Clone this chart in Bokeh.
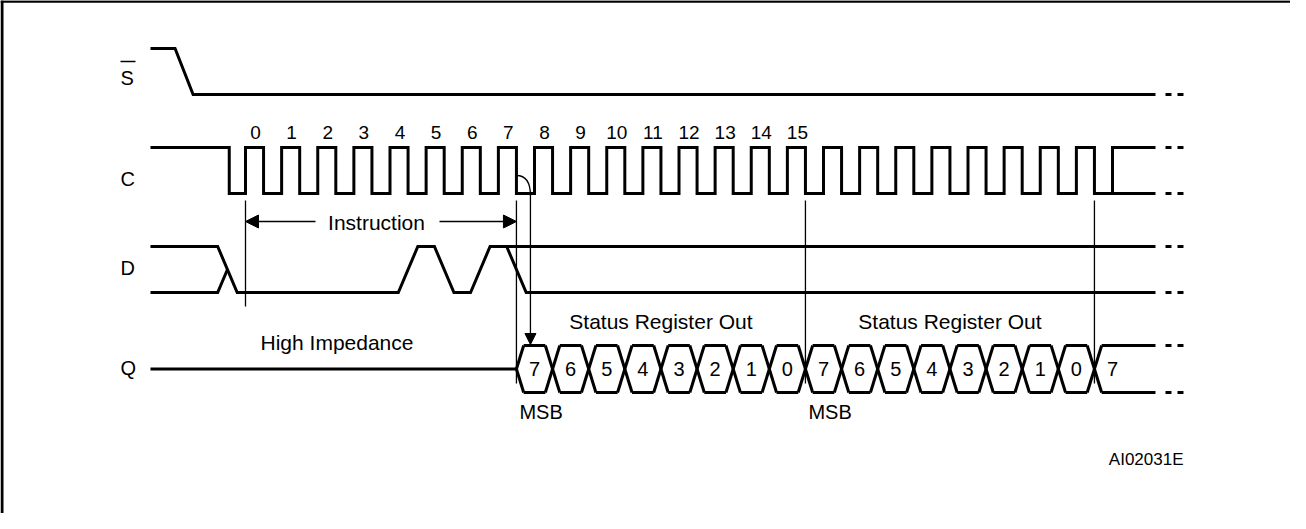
from bokeh.plotting import figure
from bokeh.models import Range1d, Arrow, NormalHead, ColumnDataSource
from bokeh.core.properties import value
from bokeh.embed import file_html
from bokeh.resources import INLINE

# ---------------- data (time unit = one clock period, 0 = rising edge of pulse 0) ----------------
SIGNAL_NAMES = ["S", "C", "D", "Q"]
CLOCK_LABELS = ["0", "1", "2", "3", "4", "5", "6", "7",
                "8", "9", "10", "11", "12", "13", "14", "15"]
N_CLOCK_PULSES = 24            # full pulses 0..23, then one more rising edge
CLOCK_DUTY = 0.5
CLOCK_IDLE_FALL = -0.45
S_FALL = -1.7
INSTRUCTION_BITS = [0, 0, 0, 0, 0, 1, 0, 1]   # RDSR instruction, MSB first
D_FIRST_EDGE = -0.5
STATUS_BITS = ["7", "6", "5", "4", "3", "2", "1", "0"]
STATUS_BYTES_SHOWN = 2
Q_START = 7.5
MARKERS = [0.0, 7.5, 15.5, 23.5]
T_START = -2.63
T_END = 25.19
INSTRUCTION_SPAN = [0.0, 7.5]
DIAGRAM_ID = "AI02031E"

# ---------------- layout (page pixels) ----------------
W, H = 1290, 513
MARGIN = 8
T0_PX = 253.0
PX_PER_T = 36.125
FONT = value("Liberation Sans")
LW = 3
THIN = 1.3
# (high, low) y for each row
LEVELS = {"S": (56, 102), "C": (155, 201), "D": (254, 300), "Q": (353, 400)}
LABEL_BASE = {"S": 93, "C": 194, "D": 283, "Q": 383}
TEXT_SHIFT = 0.36   # baseline -> drawn y correction (fraction of font size)


def t_of(px):
    return (px - T0_PX) / PX_PER_T


def dt(px):
    return px / PX_PER_T


p = figure(width=W, height=H, output_backend="svg", toolbar_location=None,
           x_range=Range1d(t_of(MARGIN), t_of(MARGIN + W)),
           y_range=Range1d(MARGIN + H, MARGIN),
           x_axis_location=None, y_axis_location=None, min_border=0,
           outline_line_color=None, background_fill_color="white",
           border_fill_color="white")
p.xgrid.visible = False
p.ygrid.visible = False

line_kw = dict(line_color="black", line_width=LW, line_join="miter", line_cap="butt")

# ---------- frame ----------
p.segment(x0=[t_of(9.5)], y0=[MARGIN], x1=[t_of(9.5)], y1=[MARGIN + H],
          line_color="black", line_width=3)
p.segment(x0=[t_of(8)], y0=[9], x1=[t_of(MARGIN + W)], y1=[9],
          line_color="black", line_width=2.5)

# ---------- S ----------
sh, sl = LEVELS["S"]
p.line([T_START, S_FALL - 0.25, S_FALL + 0.25, T_END], [sh, sh, sl, sl], **line_kw)

# ---------- C ----------
ch, cl = LEVELS["C"]
cx = [T_START, CLOCK_IDLE_FALL, CLOCK_IDLE_FALL]
cy = [ch, ch, cl]
for k in range(N_CLOCK_PULSES):
    cx += [k, k, k + CLOCK_DUTY, k + CLOCK_DUTY]
    cy += [cl, ch, ch, cl]
cx += [N_CLOCK_PULSES, N_CLOCK_PULSES, T_END]
cy += [cl, ch, ch]
p.line(cx, cy, **line_kw)
p.line([N_CLOCK_PULSES, T_END], [cl, cl], **line_kw)

# ---------- D ----------
dh, dl = LEVELS["D"]
dm = (dh + dl) / 2
HW = 0.27


def lev(b):
    return dh if b else dl


b0 = INSTRUCTION_BITS[0]
ax = [T_START, D_FIRST_EDGE - HW, D_FIRST_EDGE + HW]
ay = [lev(1 - b0), lev(1 - b0), lev(b0)]
for k in range(1, len(INSTRUCTION_BITS)):
    if INSTRUCTION_BITS[k] != INSTRUCTION_BITS[k - 1]:
        e = k - 0.5
        ax += [e - HW, e + HW]
        ay += [lev(INSTRUCTION_BITS[k - 1]), lev(INSTRUCTION_BITS[k])]
blast = INSTRUCTION_BITS[-1]
ax += [T_END]
ay += [lev(blast)]
p.line(ax, ay, **line_kw)
p.line([T_START, D_FIRST_EDGE - HW, D_FIRST_EDGE], [lev(b0), lev(b0), dm], **line_kw)
e_end = len(INSTRUCTION_BITS) - 0.5
p.line([e_end - HW, e_end + HW, T_END], [lev(blast), lev(1 - blast), lev(1 - blast)], **line_kw)

# ---------- Q ----------
qh, ql = LEVELS["Q"]
qm = (qh + ql) / 2
QH = 0.2
p.line([T_START, Q_START], [qm, qm], **line_kw)
q_labels = STATUS_BITS * STATUS_BYTES_SHOWN + [STATUS_BITS[0]]
n_cells = len(q_labels)
bounds = [Q_START + i for i in range(n_cells)]
sx0, sy0, sx1, sy1 = [], [], [], []
sx0 += [Q_START, Q_START]; sy0 += [qm, qm]
sx1 += [Q_START + QH, Q_START + QH]; sy1 += [qh, ql]
for b in bounds[1:]:
    sx0 += [b - QH, b - QH]; sy0 += [qh, ql]
    sx1 += [b + QH, b + QH]; sy1 += [ql, qh]
for i, b in enumerate(bounds):
    nxt = bounds[i + 1] - QH if i + 1 < len(bounds) else T_END
    sx0 += [b + QH, b + QH]; sy0 += [qh, ql]
    sx1 += [nxt, nxt]; sy1 += [qh, ql]
p.segment(sx0, sy0, sx1, sy1, line_color="black", line_width=LW, line_cap="butt")

# ---------- continuation dashes ----------
dash_rows = [sl, ch, cl, dh, dl, qh, ql]
d0 = T_END + dt(10)
d1 = d0 + dt(18)
p.segment([d0] * len(dash_rows), dash_rows, [d1] * len(dash_rows), dash_rows,
          line_color="black", line_width=LW, line_dash="6 6")

# ---------- marker lines ----------
mk_bottom = [314] + [391] * (len(MARKERS) - 1)
p.segment(MARKERS, [208] * len(MARKERS), MARKERS, mk_bottom,
          line_color="black", line_width=THIN)

# ---------- instruction arrows ----------
instr_y = 229
instr_mid = t_of(384)
head = dict(size=13, fill_color="black", line_color="black", line_width=1)
p.add_layout(Arrow(x_start=t_of(323), y_start=instr_y, x_end=INSTRUCTION_SPAN[0], y_end=instr_y,
                   line_width=THIN, line_color="black", end=NormalHead(**head)))
p.add_layout(Arrow(x_start=t_of(447), y_start=instr_y, x_end=INSTRUCTION_SPAN[1], y_end=instr_y,
                   line_width=THIN, line_color="black", end=NormalHead(**head)))

# ---------- curved arrow from clock falling edge 7 to Q ----------
arr_x = Q_START + dt(14)
p.quadratic(x0=[Q_START], y0=[183], x1=[arr_x], y1=[203], cx=[arr_x], cy=[183],
            line_color="black", line_width=THIN)
p.add_layout(Arrow(x_start=arr_x, y_start=202, x_end=arr_x, y_end=352,
                   line_width=THIN, line_color="black",
                   end=NormalHead(size=11, fill_color="black", line_color="black", line_width=1)))


# ---------- texts ----------
def txt(xs, baselines, texts, size, align="center"):
    ys = [b - TEXT_SHIFT * size for b in baselines]
    src = ColumnDataSource(dict(x=xs, y=ys, t=texts))
    p.text(x="x", y="y", text="t", source=src, text_font=FONT, text_font_size=f"{size}px",
           text_align=align, text_baseline="alphabetic", text_color="black")


txt([t_of(128)] * 4, [LABEL_BASE[n] for n in SIGNAL_NAMES], SIGNAL_NAMES, 20, "left")
p.segment([t_of(128)], [69], [t_of(143)], [69], line_color="black", line_width=1.5)

txt([k + CLOCK_DUTY / 2 + dt(1) for k in range(len(CLOCK_LABELS))],
    [147] * len(CLOCK_LABELS), CLOCK_LABELS, 19)

txt([b + 0.5 for b in bounds], [384] * n_cells, q_labels, 20)

txt([instr_mid], [238], ["Instruction"], 21)
txt([t_of(344.5)], [358], ["High Impedance"], 21)
txt([(MARKERS[1] + MARKERS[2]) / 2, (MARKERS[2] + MARKERS[3]) / 2], [337, 337],
    ["Status Register Out", "Status Register Out"], 21)
txt([MARKERS[1] + dt(3), MARKERS[2] + dt(3)], [427, 427], ["MSB", "MSB"], 20, "left")
txt([d1], [473], [DIAGRAM_ID], 17, "right")

open("out.html", "w").write(file_html(p, INLINE))
